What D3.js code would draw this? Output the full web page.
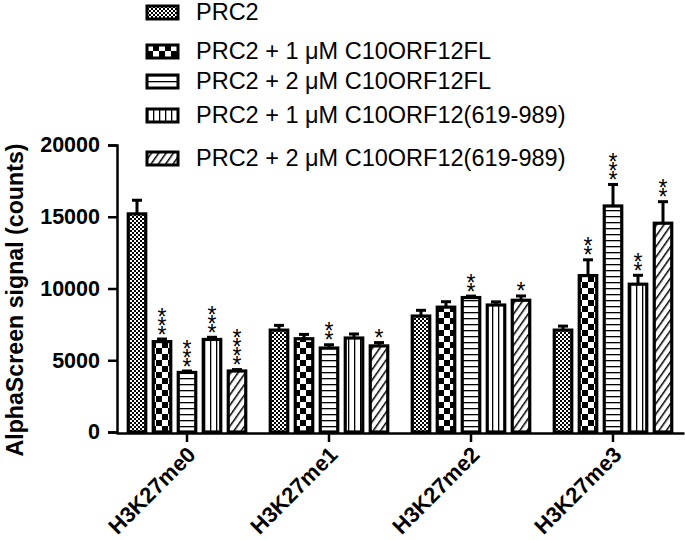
<!DOCTYPE html>
<html>
<head>
<meta charset="utf-8">
<script src="https://cdn.jsdelivr.net/npm/d3@7"></script>
<style>
  body { margin: 0; background: #fff; }
  text { font-family: "Liberation Sans", Arial, sans-serif; fill: #000; }
</style>
</head>
<body>
<div id="chart"></div>
<script>
// data
const groups = ["H3K27me0", "H3K27me1", "H3K27me2", "H3K27me3"];
const series = ["PRC2", "PRC2 + 1 \u03bcM C10ORF12FL", "PRC2 + 2 \u03bcM C10ORF12FL",
                "PRC2 + 1 \u03bcM C10ORF12(619-989)", "PRC2 + 2 \u03bcM C10ORF12(619-989)"];
const means = [
  [15200, 6300, 4150, 6450, 4250],
  [7100, 6500, 5850, 6550, 6000],
  [8080, 8700, 9370, 8850, 9180],
  [7100, 10900, 15750, 10300, 14550]
];
const errs = [
  [950, 180, 100, 150, 100],
  [330, 300, 230, 280, 230],
  [400, 380, 100, 220, 300],
  [280, 1100, 1500, 620, 1500]
];
const stars = [
  ["", "***", "***", "***", "****"],
  ["", "", "**", "", "*"],
  ["", "", "**", "", "*"],
  ["", "**", "***", "**", "**"]
];
const yTicks = [0, 5000, 10000, 15000, 20000];
const patternIds = ["pFine", "pCheck", "pHoriz", "pVert", "pDiag"];

const width = 685, height = 540;

const svg = d3.select("#chart")
  .append("svg")
    .attr("width", width)
    .attr("height", height);

// fill patterns
const defs = svg.append("defs");

const pFine = defs.append("pattern").attr("id", "pFine")
  .attr("patternUnits", "userSpaceOnUse").attr("width", 4).attr("height", 4);
pFine.append("rect").attr("width", 4).attr("height", 4).attr("fill", "#fff");
pFine.append("rect").attr("width", 2).attr("height", 2).attr("fill", "#000");
pFine.append("rect").attr("x", 2).attr("y", 2).attr("width", 2).attr("height", 2).attr("fill", "#000");

const pCheck = defs.append("pattern").attr("id", "pCheck")
  .attr("patternUnits", "userSpaceOnUse").attr("width", 12).attr("height", 12);
pCheck.append("rect").attr("width", 12).attr("height", 12).attr("fill", "#fff");
pCheck.append("rect").attr("width", 6).attr("height", 6).attr("fill", "#000");
pCheck.append("rect").attr("x", 6).attr("y", 6).attr("width", 6).attr("height", 6).attr("fill", "#000");

const pHoriz = defs.append("pattern").attr("id", "pHoriz")
  .attr("patternUnits", "userSpaceOnUse").attr("width", 6).attr("height", 6);
pHoriz.append("rect").attr("width", 6).attr("height", 6).attr("fill", "#fff");
pHoriz.append("rect").attr("y", 0).attr("width", 6).attr("height", 1.3).attr("fill", "#000");

const pVert = defs.append("pattern").attr("id", "pVert")
  .attr("patternUnits", "userSpaceOnUse").attr("width", 6).attr("height", 6);
pVert.append("rect").attr("width", 6).attr("height", 6).attr("fill", "#fff");
pVert.append("rect").attr("x", 0).attr("width", 1.3).attr("height", 6).attr("fill", "#000");

const pDiag = defs.append("pattern").attr("id", "pDiag")
  .attr("patternUnits", "userSpaceOnUse").attr("width", 6).attr("height", 6)
  .attr("patternTransform", "rotate(35)");
pDiag.append("rect").attr("width", 6).attr("height", 6).attr("fill", "#fff");
pDiag.append("rect").attr("x", 0).attr("width", 1.5).attr("height", 6).attr("fill", "#000");

// scales
const x = d3.scaleBand()
  .domain(groups)
  .range([116, 684]);

const xs = d3.scaleBand()
  .domain(d3.range(series.length))
  .range([-62.5, 62.5])
  .paddingInner(0.3)
  .paddingOuter(0.15);

const y = d3.scaleLinear()
  .domain([0, 20000])
  .range([432, 145]);

// bars
const cells = [];
groups.forEach((g, gi) => series.forEach((s, si) => {
  cells.push({g: g, si: si, v: means[gi][si], e: errs[gi][si], st: stars[gi][si]});
}));

const barX = d => x(d.g) + x.bandwidth() / 2 + xs(d.si);

// error bars (upper only)
svg.append("g")
  .selectAll("line")
  .data(cells)
  .join("line")
    .attr("x1", d => barX(d) + xs.bandwidth() / 2)
    .attr("x2", d => barX(d) + xs.bandwidth() / 2)
    .attr("y1", d => y(d.v))
    .attr("y2", d => y(d.v + d.e))
    .attr("stroke", "#000")
    .attr("stroke-width", 3);

svg.append("g")
  .selectAll("line")
  .data(cells)
  .join("line")
    .attr("x1", d => barX(d) + xs.bandwidth() / 2 - 5)
    .attr("x2", d => barX(d) + xs.bandwidth() / 2 + 5)
    .attr("y1", d => y(d.v + d.e))
    .attr("y2", d => y(d.v + d.e))
    .attr("stroke", "#000")
    .attr("stroke-width", 3);

svg.append("g")
  .selectAll("rect")
  .data(cells)
  .join("rect")
    .attr("x", d => barX(d))
    .attr("y", d => y(d.v))
    .attr("width", xs.bandwidth())
    .attr("height", d => y(0) - y(d.v))
    .attr("fill", d => `url(#${patternIds[d.si]})`)
    .attr("stroke", "#000")
    .attr("stroke-width", 3.2);

// significance stars, stacked
const starG = svg.append("g");
cells.filter(d => d.st).forEach(d => {
  const n = d.st.length;
  for (let k = 0; k < n; k++) {
    starG.append("text")
      .attr("x", barX(d) + xs.bandwidth() / 2)
      .attr("y", y(d.v + d.e) + 3.5 - k * 9)
      .attr("text-anchor", "middle")
      .attr("font-size", 23)
      .text("*");
  }
});

// axes
const yAxis = svg.append("g")
  .attr("transform", "translate(117,0)")
  .call(d3.axisLeft(y).tickValues(yTicks).tickSize(9).tickPadding(8).tickFormat(d3.format("d")));
yAxis.select(".domain").attr("stroke-width", 2.5);
yAxis.selectAll(".tick line").attr("stroke-width", 2.5);
yAxis.selectAll(".tick text")
  .attr("font-size", 21.5).attr("font-weight", "bold").attr("fill", "#000")
  .attr("font-family", "Liberation Sans, Arial, sans-serif");

const xAxis = svg.append("g")
  .attr("transform", "translate(0,433)")
  .call(d3.axisBottom(x).tickSize(9).tickSizeOuter(0).tickFormat(""));
xAxis.select(".domain").attr("stroke-width", 2.5);
xAxis.selectAll(".tick line").attr("stroke-width", 2.5);

svg.append("g")
  .selectAll("text")
  .data(groups)
  .join("text")
    .attr("transform", d => `translate(${x(d) + x.bandwidth() / 2 + 10},456) rotate(-45)`)
    .attr("text-anchor", "end")
    .attr("font-size", 22)
    .attr("font-weight", "bold")
    .text(d => d);

// y title
svg.append("text")
  .attr("transform", "translate(23,300) rotate(-90)")
  .attr("text-anchor", "middle")
  .attr("font-size", 23.2)
  .attr("font-weight", "bold")
  .text("AlphaScreen signal (counts)");

// legend
const legendY = [12, 51, 81, 115, 158];
const legend = svg.append("g")
  .selectAll("g")
  .data(series)
  .join("g")
    .attr("transform", (d, i) => `translate(147,${legendY[i]})`);
legend.append("rect")
  .attr("x", 0).attr("y", -6)
  .attr("width", 31).attr("height", 13)
  .attr("fill", (d, i) => `url(#${patternIds[i]})`)
  .attr("stroke", "#000")
  .attr("stroke-width", 3);
legend.append("text")
  .attr("x", 49)
  .attr("y", 8)
  .attr("font-size", 23.5)
  .text(d => d);
</script>
</body>
</html>
